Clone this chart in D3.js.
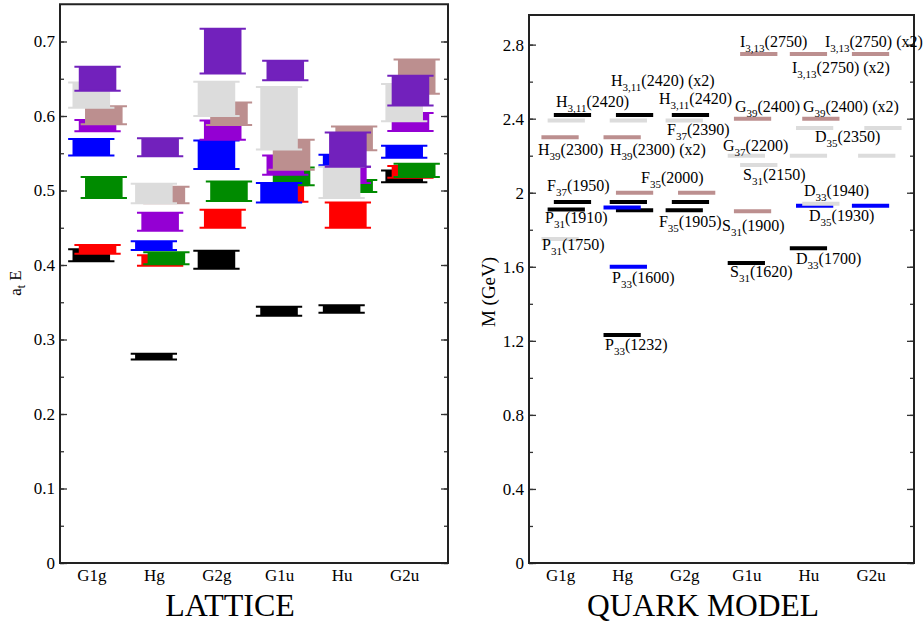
<!DOCTYPE html>
<html>
<head>
<meta charset="UTF-8">
<title>Lattice and quark model spectrum</title>
<script src="https://d3js.org/d3.v7.min.js"></script>
<style>
  body { margin: 0; background: #fff; }
  text { font-family: "Liberation Serif", "DejaVu Serif", serif; }
</style>
</head>
<body>
<div id="chart"></div>
<script>
// irreps on both panels
var irreps = ["G1g", "Hg", "G2g", "G1u", "Hu", "G2u"];

// lattice levels, [a_t E, error]; the index of a level picks its colour
var latG1g = [[0.413, 0.008], [0.421, 0.006], [0.504, 0.014], [0.558, 0.011], [0.587, 0.0075], [0.601, 0.012], [0.628, 0.017], [0.650, 0.016]];
var latHg  = [[0.277, 0.004], [0.406, 0.007], [0.409, 0.008], [0.426, 0.006], [0.458, 0.012], [0.494, 0.011], [0.496, 0.013], [0.558, 0.012]];
var latG2g = [[0.407, 0.012], [0.462, 0.012], [0.499, 0.013], [0.548, 0.019], [0.581, 0.013], [0.603, 0.015], [0.623, 0.023], [0.687, 0.030]];
var latG1u = [[0.338, 0.006], [0.496, 0.011], [0.519, 0.012], [0.497, 0.013], [0.534, 0.013], [0.548, 0.020], [0.597, 0.042], [0.661, 0.013]];
var latHu  = [[0.341, 0.005], [0.467, 0.017], [0.506, 0.008], [0.541, 0.007], [0.521, 0.011], [0.570, 0.016], [0.511, 0.021], [0.555, 0.023]];
var latG2u = [[0.519, 0.008], [0.525, 0.008], [0.527, 0.009], [0.552, 0.008], [0.592, 0.012], [0.653, 0.023], [0.618, 0.025], [0.634, 0.020]];
var lattice = [latG1g, latHg, latG2g, latG1u, latHu, latG2u];
var levelColors = ["#000000", "#ff0000", "#008b00", "#0000ff", "#9400d3", "#bc8f8f", "#dcdcdc", "#7221bc"];

// quark model / experimental states, [mass GeV, star rating]
var qmG1g = [[1.75, 1], [1.91, 4], [1.95, 4], [2.30, 2], [2.39, 1], [2.42, 4]];
var qmHg  = [[1.232, 4], [1.60, 3], [1.905, 4], [1.92, 3], [1.95, 4], [2.00, 2], [2.30, 2], [2.39, 1], [2.42, 4]];
var qmG2g = [[1.905, 4], [1.95, 4], [2.00, 2], [2.39, 1], [2.42, 4]];
var qmG1u = [[1.62, 4], [1.90, 2], [2.15, 1], [2.20, 1], [2.40, 2], [2.75, 2]];
var qmHu  = [[1.70, 4], [1.93, 3], [1.94, 1], [2.20, 1], [2.35, 1], [2.40, 2], [2.75, 2]];
var qmG2u = [[1.93, 3], [2.20, 1], [2.35, 1], [2.75, 2]];
var quark = [qmG1g, qmHg, qmG2g, qmG1u, qmHu, qmG2u];
var starColors = {4: "#000000", 3: "#0000ff", 2: "#bc8f8f", 1: "#dcdcdc"};

var latTicks = [0, 0.1, 0.2, 0.3, 0.4, 0.5, 0.6, 0.7];
var qmTicks = [0, 0.4, 0.8, 1.2, 1.6, 2, 2.4, 2.8];

// state names: [letter, subscript, rest, x in irrep units, y in GeV]
var qmLabels = [
  ["H", "3,11", "(2420)", 0.935, 2.465],
  ["H", "3,11", "(2420) (x2)", 1.820, 2.578],
  ["H", "3,11", "(2420)", 2.593, 2.481],
  ["H", "39", "(2300)", 0.645, 2.205],
  ["H", "39", "(2300) (x2)", 1.804, 2.205],
  ["F", "37", "(2390)", 2.722, 2.314],
  ["F", "37", "(1950)", 0.790, 2.011],
  ["P", "31", "(1910)", 0.758, 1.838],
  ["P", "31", "(1750)", 0.709, 1.692],
  ["F", "35", "(2000)", 2.304, 2.054],
  ["F", "35", "(1905)", 2.593, 1.816],
  ["P", "33", "(1600)", 1.837, 1.514],
  ["P", "33", "(1232)", 1.724, 1.151],
  ["I", "3,13", "(2750)", 3.898, 2.789],
  ["I", "3,13", "(2750) (x2)", 5.265, 2.789],
  ["I", "3,13", "(2750) (x2)", 4.735, 2.649],
  ["G", "39", "(2400)", 3.817, 2.438],
  ["G", "39", "(2400) (x2)", 4.912, 2.438],
  ["D", "35", "(2350)", 5.106, 2.276],
  ["G", "37", "(2200)", 3.624, 2.227],
  ["S", "31", "(2150)", 3.946, 2.070],
  ["D", "33", "(1940)", 4.928, 1.984],
  ["D", "35", "(1930)", 5.009, 1.849],
  ["S", "31", "(1900)", 3.608, 1.795],
  ["D", "33", "(1700)", 4.800, 1.616],
  ["S", "31", "(1620)", 3.737, 1.546]
];

var width = 923, height = 627;
var svg = d3.select("#chart").append("svg")
            .attr("width", width)
            .attr("height", height)
            .attr("font-family", "'Liberation Serif', serif");

// frame, ticks on both sides pointing in, irrep names below
function drawFrame(x, y, ticks, minorStep) {
  var x0 = x.range()[0], x1 = x.range()[1];
  var yDom = y.domain();
  var minor = d3.range(0, yDom[1], minorStep);

  svg.append("g")
     .attr("transform", "translate(" + x0 + ",0)")
     .call(d3.axisLeft(y).tickValues(minor).tickSize(-4).tickFormat(""));
  svg.append("g")
     .attr("transform", "translate(" + x1 + ",0)")
     .call(d3.axisRight(y).tickValues(minor).tickSize(-4).tickFormat(""));
  svg.append("g")
     .attr("transform", "translate(" + x0 + ",0)")
     .call(d3.axisLeft(y).tickValues(ticks).tickSize(-7).tickPadding(5)
             .tickFormat(function(d) { return String(+d.toFixed(1)); }));
  svg.append("g")
     .attr("transform", "translate(" + x1 + ",0)")
     .call(d3.axisRight(y).tickValues(ticks).tickSize(-7).tickFormat(""));

  var xb = d3.axisBottom(x).tickValues([1, 2, 3, 4, 5, 6]).tickSize(0).tickPadding(6)
             .tickFormat(function(d) { return irreps[d - 1]; });
  svg.append("g")
     .attr("transform", "translate(0," + y.range()[0] + ")")
     .call(xb);

  svg.selectAll(".domain").remove();
  svg.append("rect")
     .attr("x", x0).attr("y", y.range()[1])
     .attr("width", x1 - x0).attr("height", y.range()[0] - y.range()[1])
     .attr("fill", "none").attr("stroke", "#222").attr("stroke-width", 2);
  svg.selectAll(".tick line").attr("stroke", "#333").attr("stroke-width", 1.3);
  svg.selectAll(".tick").attr("font-family", null);
  svg.selectAll("g").attr("font-family", null);
  svg.selectAll(".tick text").attr("font-size", 17).attr("fill", "#000");
}

// ---- left: lattice
var xL = d3.scaleLinear().domain([0.5, 6.7]).range([60, 448]);
var yL = d3.scaleLinear().domain([0, 0.75]).range([563, 4.25]);
drawFrame(xL, yL, latTicks, 0.05);

var boxW = 0.6, capW = 0.74, step = 0.1;
lattice.forEach(function(levels, c) {
  var g = svg.append("g");
  levels.forEach(function(d, i) {
    var xc = c + 1 + step * (i % 3);
    var col = levelColors[i];
    g.append("rect")
     .attr("x", xL(xc - boxW / 2))
     .attr("width", xL(xc + boxW / 2) - xL(xc - boxW / 2))
     .attr("y", yL(d[0] + d[1]))
     .attr("height", yL(d[0] - d[1]) - yL(d[0] + d[1]))
     .attr("fill", col);
    [d[0] + d[1], d[0] - d[1]].forEach(function(v) {
      g.append("line")
       .attr("x1", xL(xc - capW / 2)).attr("x2", xL(xc + capW / 2))
       .attr("y1", yL(v)).attr("y2", yL(v))
       .attr("stroke", col).attr("stroke-width", 2);
    });
  });
});

// ---- right: quark model
var xR = d3.scaleLinear().domain([0.5, 6.7]).range([529, 914]);
var yR = d3.scaleLinear().domain([0, 2.96]).range([563, 15]);
drawFrame(xR, yR, qmTicks, 0.2);

quark.forEach(function(states, c) {
  svg.append("g")
     .selectAll("line")
     .data(states)
     .enter()
     .append("line")
     .attr("x1", function(d, i) { return xR(c + 1 + step * (i % 3) - boxW / 2); })
     .attr("x2", function(d, i) { return xR(c + 1 + step * (i % 3) + boxW / 2); })
     .attr("y1", function(d) { return yR(d[0]); })
     .attr("y2", function(d) { return yR(d[0]); })
     .attr("stroke", function(d) { return starColors[d[1]]; })
     .attr("stroke-width", 4);
});

var lab = svg.append("g")
   .selectAll("text")
   .data(qmLabels)
   .enter()
   .append("text")
   .attr("x", function(d) { return xR(d[3]); })
   .attr("y", function(d) { return yR(d[4]); })
   .attr("font-size", 16)
   .attr("fill", "#000");
lab.append("tspan").text(function(d) { return d[0]; });
lab.append("tspan").attr("font-size", 11).attr("dy", 5).text(function(d) { return d[1]; });
lab.append("tspan").attr("dy", -5).text(function(d) { return d[2]; });

// axis titles
var tl = svg.append("text")
   .attr("transform", "translate(21,283) rotate(-90)")
   .attr("text-anchor", "middle")
   .attr("font-size", 17);
tl.append("tspan").text("a");
tl.append("tspan").attr("font-size", 12).attr("dy", 4).text("t");
tl.append("tspan").attr("dy", -4).text(" E");

svg.append("text")
   .attr("transform", "translate(495,292) rotate(-90)")
   .attr("text-anchor", "middle")
   .attr("font-size", 19)
   .text("M (GeV)");

svg.append("text")
   .attr("x", 230).attr("y", 616)
   .attr("text-anchor", "middle")
   .attr("font-size", 32)
   .text("LATTICE");

svg.append("text")
   .attr("x", 703).attr("y", 616)
   .attr("text-anchor", "middle")
   .attr("font-size", 31.5)
   .text("QUARK MODEL");
</script>
</body>
</html>
